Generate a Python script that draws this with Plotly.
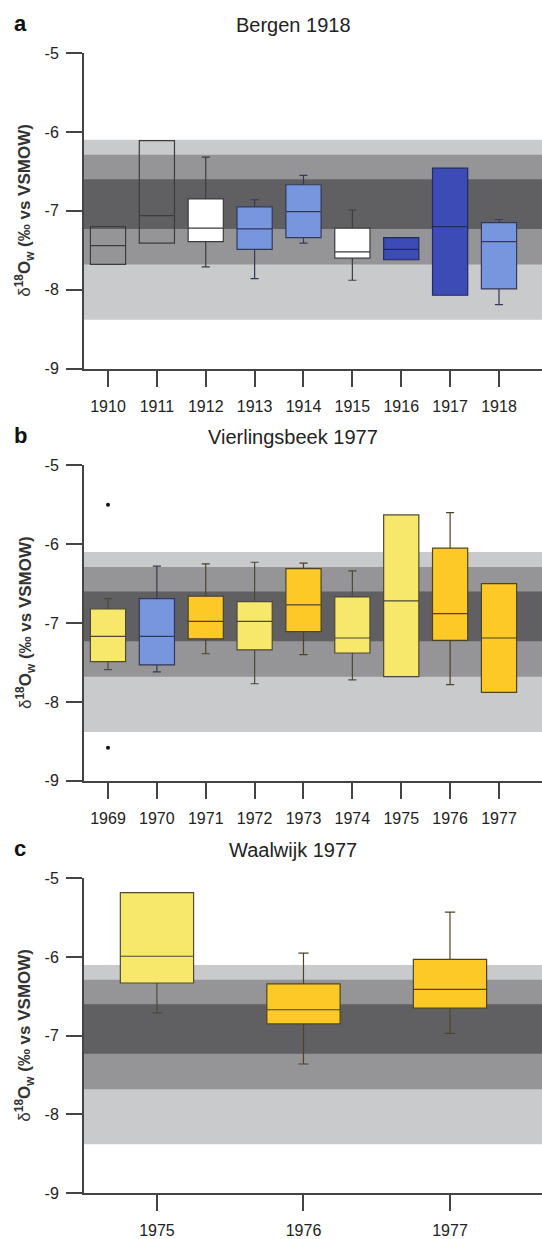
import plotly.graph_objects as go

# ---------------- data ----------------
# Panel a: Bergen 1918
years_a = ["1910", "1911", "1912", "1913", "1914", "1915", "1916", "1917", "1918"]
q3_a = [-7.20, -6.11, -6.85, -6.95, -6.67, -7.22, -7.34, -6.46, -7.15]
med_a = [-7.44, -7.06, -7.22, -7.23, -7.01, -7.52, -7.49, -7.20, -7.39]
q1_a = [-7.68, -7.41, -7.39, -7.49, -7.34, -7.60, -7.62, -8.07, -7.99]
hi_a = [None, None, -6.32, -6.86, -6.55, -6.99, None, None, -7.11]
lo_a = [None, None, -7.71, -7.86, -7.41, -7.88, None, None, -8.19]
kind_a = ["none", "none", "white", "lblue", "lblue", "white", "dblue", "dblue", "lblue"]

# Panel b: Vierlingsbeek 1977
years_b = ["1969", "1970", "1971", "1972", "1973", "1974", "1975", "1976", "1977"]
q3_b = [-6.82, -6.69, -6.66, -6.73, -6.31, -6.67, -5.63, -6.05, -6.50]
med_b = [-7.17, -7.17, -6.98, -6.98, -6.77, -7.19, -6.72, -6.88, -7.19]
q1_b = [-7.49, -7.53, -7.20, -7.34, -7.11, -7.38, -7.68, -7.22, -7.88]
hi_b = [-6.69, -6.28, -6.25, -6.23, -6.24, -6.34, None, -5.60, None]
lo_b = [-7.59, -7.62, -7.39, -7.77, -7.40, -7.72, None, -7.78, None]
kind_b = ["lyellow", "lblue", "orange", "lyellow", "orange", "lyellow", "lyellow", "orange", "orange"]
outlier_years_b = ["1969", "1969"]
outlier_vals_b = [-5.50, -8.58]

# Panel c: Waalwijk 1977
years_c = ["1975", "1976", "1977"]
q3_c = [-5.18, -6.34, -6.03]
med_c = [-5.99, -6.67, -6.41]
q1_c = [-6.33, -6.85, -6.65]
hi_c = [None, -5.95, -5.43]
lo_c = [-6.71, -7.36, -6.97]
kind_c = ["lyellow", "orange", "orange"]

# Background bands (‰)
band_light = (-6.10, -8.38)
band_mid = (-6.29, -7.68)
band_dark = (-6.60, -7.23)

titles = ["Bergen 1918", "Vierlingsbeek 1977", "Waalwijk 1977"]
letters = ["a", "b", "c"]

# ---------------- styling ----------------
FILL = {
    "none": "rgba(0,0,0,0)",
    "white": "#ffffff",
    "lblue": "#7796de",
    "dblue": "#3d4bb6",
    "lyellow": "#f7e86b",
    "orange": "#fdc927",
}
EDGE = {
    "none": "#3c3c3c",
    "white": "#3c3c3c",
    "lblue": "#33395a",
    "dblue": "#232a5e",
    "lyellow": "#4e4a38",
    "orange": "#4e4424",
}
BAND_COLORS = ["#c9cacc", "#959598", "#606062"]
FONT = "Liberation Sans, Arial, sans-serif"

W, H = 542, 1239
ML, MR, MT, MB = 84, 0, 53, 41
plot_h = H - MT - MB
plot_w = W - ML - MR


def ydom(top_px, bot_px):
    return [(H - MB - bot_px) / plot_h, (H - MB - top_px) / plot_h]


domains = [ydom(53, 370), ydom(467, 784), ydom(882, 1198)]
xranges = [[-0.491, 8.88], [-0.491, 8.88], [-0.498, 2.628]]
box_widths = [0.72, 0.72, 0.5]
whisker_w = [0.23, 0.23, 0.14]

panels = [
    (years_a, q1_a, med_a, q3_a, lo_a, hi_a, kind_a),
    (years_b, q1_b, med_b, q3_b, lo_b, hi_b, kind_b),
    (years_c, q1_c, med_c, q3_c, lo_c, hi_c, kind_c),
]

fig = go.Figure()
shapes = []
annotations = []

for p, (yrs, q1, med, q3, lo, hi, kind) in enumerate(panels):
    sfx = "" if p == 0 else str(p + 1)
    xa, ya = "x" + sfx, "y" + sfx
    for i, yr in enumerate(yrs):
        k = kind[i]
        fig.add_trace(go.Box(
            x=[yr], q1=[q1[i]], median=[med[i]], q3=[q3[i]],
            lowerfence=[lo[i] if lo[i] is not None else q1[i]],
            upperfence=[hi[i] if hi[i] is not None else q3[i]],
            fillcolor=FILL[k],
            line=dict(color=EDGE[k], width=1.2),
            width=box_widths[p], whiskerwidth=whisker_w[p],
            boxpoints=False, showlegend=False, hoverinfo="skip",
            xaxis=xa, yaxis=ya,
        ))
    # bands
    for (top, bot), col in zip([band_light, band_mid, band_dark], BAND_COLORS):
        shapes.append(dict(type="rect", xref=xa + " domain", yref=ya,
                           x0=0, x1=1, y0=bot, y1=top, fillcolor=col,
                           line=dict(width=0), layer="below"))
    dom = domains[p]
    # panel title
    annotations.append(dict(text=titles[p], xref="paper", yref="paper",
                            x=(293 - ML) / plot_w, y=dom[1], yshift=28,
                            xanchor="center", yanchor="middle", showarrow=False,
                            font=dict(family=FONT, size=20, color="#222")))
    annotations.append(dict(text="<b>" + letters[p] + "</b>", xref="paper", yref="paper",
                            x=(20 - ML) / plot_w, y=dom[1], yshift=30,
                            xanchor="center", yanchor="middle", showarrow=False,
                            font=dict(family=FONT, size=22, color="#111")))
    annotations.append(dict(text="δ<b><sup>18</sup>O<sub>w</sub> (‰ vs VSMOW)</b>",
                            xref="paper", yref="paper",
                            x=(25 - ML) / plot_w, y=(dom[0] + dom[1]) / 2,
                            xanchor="center", yanchor="middle", textangle=-90,
                            showarrow=False,
                            font=dict(family=FONT, size=17, color="#333")))

# outliers (panel b)
fig.add_trace(go.Scatter(x=outlier_years_b, y=outlier_vals_b, mode="markers",
                         marker=dict(color="#111", size=4), showlegend=False,
                         hoverinfo="skip", xaxis="x2", yaxis="y2"))

axis_common = dict(showgrid=False, zeroline=False, showline=True, linecolor="#444",
                   linewidth=2, ticks="outside", ticklen=16, tickwidth=2,
                   tickcolor="#444", tickfont=dict(family=FONT, size=16, color="#222"))

layout = dict(
    width=W, height=H, margin=dict(l=ML, r=MR, t=MT, b=MB),
    plot_bgcolor="white", paper_bgcolor="white", boxmode="overlay",
    shapes=shapes, annotations=annotations,
)
for p in range(3):
    sfx = "" if p == 0 else str(p + 1)
    layout["xaxis" + sfx] = dict(axis_common, type="category", range=xranges[p],
                                 anchor="y" + sfx, domain=[0, 1],
                                 categoryorder="array", categoryarray=panels[p][0],
                                 ticklabelstandoff=6)
    layout["yaxis" + sfx] = dict(axis_common, range=[-9, -5], domain=domains[p],
                                 anchor="x" + sfx, tickvals=[-9, -8, -7, -6, -5],
                                 ticktext=["-9", "-8", "-7", "-6", "-5"],
                                 ticklabelstandoff=4)

fig.update_layout(**layout)
fig.write_html("out.html", config={"displayModeBar": False},
               post_script="document.body.style.margin='0';"
                           "document.body.style.overflow='hidden';")
